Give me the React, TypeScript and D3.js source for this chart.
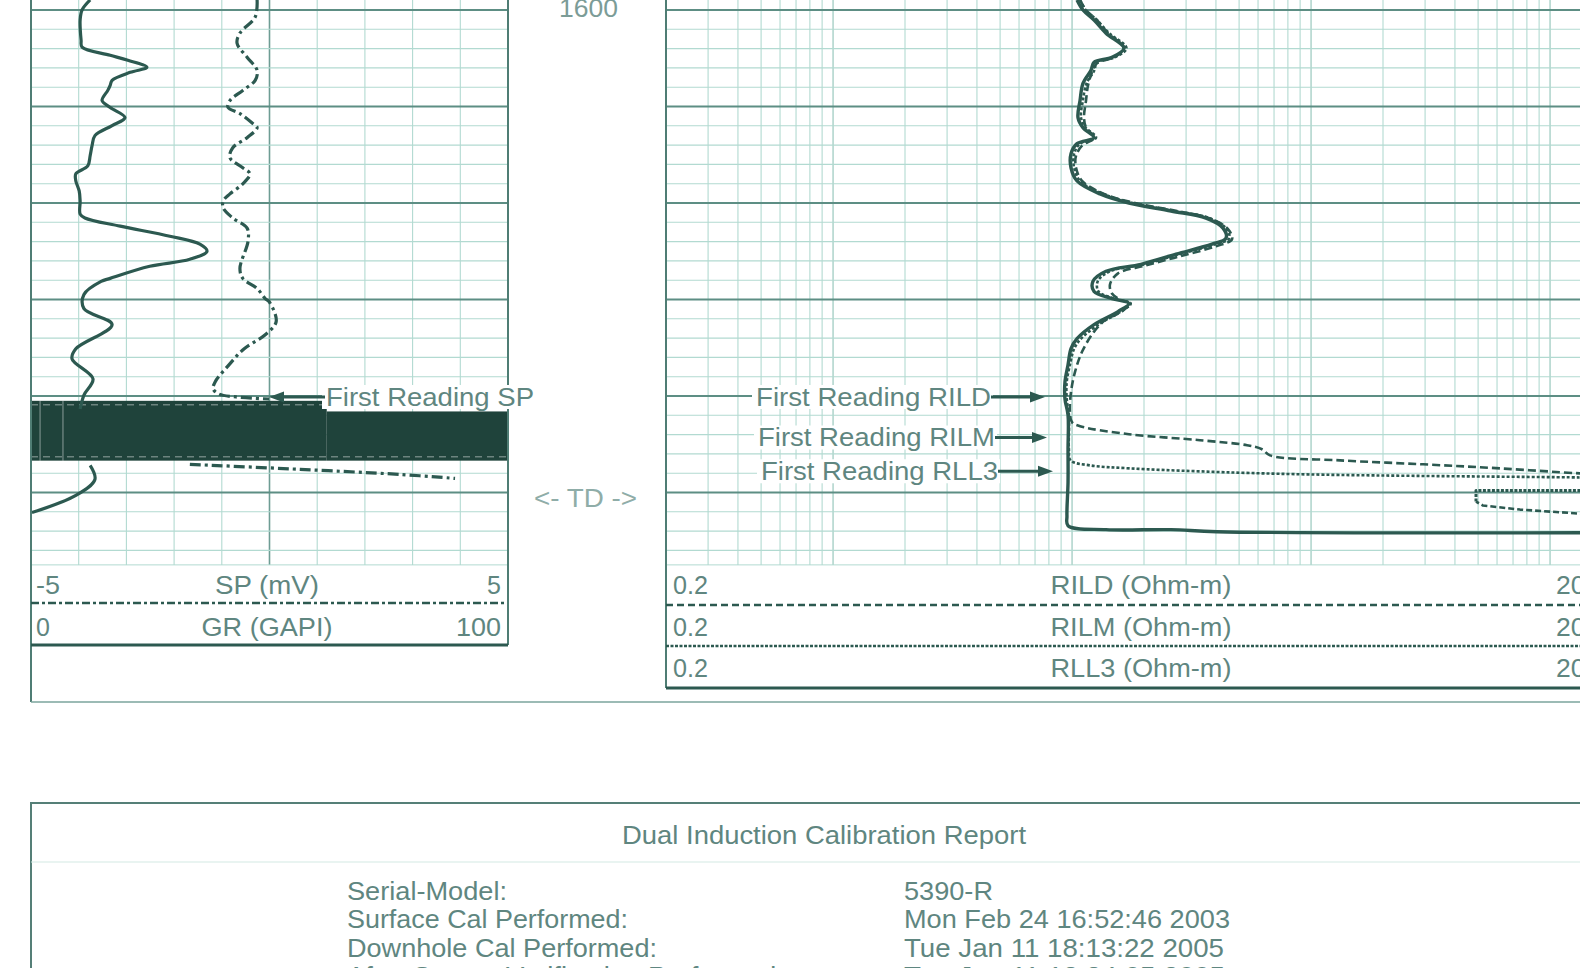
import React from 'react';
import * as d3 from 'd3';

type Pt = [number, number | null];

// ---- scales / axis ranges ----
const SP_RANGE: [number, number] = [-5, 5];
const GR_RANGE: [number, number] = [0, 100];
const RES_RANGE: [number, number] = [0.2, 2000];
const DEPTH_LABELS = [1600];
const TD_DEPTH = 1650.55;
const TRACK_BOTTOM_DEPTH = 1657.5;
const BAND_LEFT: [number, number] = [1640.5, 1646.7];
const BAND_RIGHT: [number, number] = [1641.6, 1646.7];

// ---- log curves [depth ft, value] ----
const GR: Pt[] = [
  [1598.96, 12.4], [1600.0, 10.7], [1601.04, 10.3], [1603.13, 10.5], [1603.85, 10.7],
  [1604.69, 16.6], [1605.21, 20.3], [1605.94, 24.3], [1606.46, 20.8], [1607.29, 17.0],
  [1607.81, 16.6], [1608.33, 16.1], [1609.38, 14.9], [1610.1, 16.6], [1611.15, 19.7],
  [1611.98, 17.0], [1613.02, 13.4], [1614.06, 12.8], [1615.1, 12.4], [1616.15, 11.9],
  [1616.98, 9.4], [1617.71, 9.4], [1618.75, 10.1], [1619.79, 10.3], [1621.15, 10.3],
  [1621.56, 11.3], [1622.4, 18.7], [1623.44, 29.1], [1624.27, 35.4], [1625.0, 36.9],
  [1625.83, 33.3], [1626.56, 24.9], [1627.81, 16.6], [1628.13, 14.7], [1629.48, 11.1],
  [1630.94, 11.1], [1632.6, 17.0], [1635.1, 9.4], [1636.15, 8.6], [1638.23, 13.0],
  [1639.9, 11.1], [1641.35, 10.3],
  [1644.0, null],
  [1647.19, 12.4], [1648.65, 13.4], [1650.31, 9.4], [1652.08, 0.2],
];

const SP: Pt[] = [
  [1598.96, -0.26], [1600.73, -0.3], [1602.4, -0.62], [1603.44, -0.68], [1604.9, -0.47],
  [1606.25, -0.26], [1607.29, -0.3], [1608.33, -0.56], [1609.38, -0.83], [1610.1, -0.87],
  [1610.73, -0.62], [1611.77, -0.35], [1612.19, -0.26], [1613.23, -0.47], [1614.27, -0.77],
  [1615.31, -0.83], [1616.35, -0.56], [1616.98, -0.41], [1618.02, -0.56], [1619.06, -0.83],
  [1619.79, -0.97], [1620.52, -0.97], [1621.56, -0.77], [1622.6, -0.47], [1623.96, -0.45],
  [1626.77, -0.62], [1627.81, -0.56], [1628.85, -0.26], [1629.9, -0.09], [1630.21, -0.01],
  [1632.29, 0.14], [1633.65, -0.09], [1635.1, -0.53], [1636.77, -0.85], [1638.54, -1.14],
  [1639.27, -1.18], [1639.79, -1.06], [1640.1, -0.7], [1640.31, -0.01],
  [1644.0, null],
  [1647.08, -1.67], [1647.6, 0.64], [1648.13, 2.74], [1648.54, 3.89],
];

const RLL3: Pt[] = [
  [1598.96, 10.49], [1600.0, 11.11], [1601.04, 12.36], [1602.4, 13.87], [1603.96, 16.49],
  [1604.9, 14.69], [1605.42, 12.36], [1606.25, 12.0], [1607.6, 11.11], [1609.38, 10.8],
  [1611.15, 10.59], [1612.19, 11.11], [1613.23, 12.36], [1613.85, 10.49], [1614.9, 9.9],
  [1616.35, 9.9], [1617.71, 10.49], [1619.06, 13.09], [1620.0, 17.3], [1620.83, 25.94],
  [1621.56, 36.34], [1622.6, 42.82], [1623.65, 44.06], [1624.27, 38.5], [1625.31, 27.22],
  [1626.35, 19.42], [1627.08, 13.87], [1628.13, 12.23], [1629.17, 12.36], [1629.9, 14.69],
  [1630.42, 17.3], [1631.25, 15.57], [1632.6, 12.36], [1634.06, 10.49], [1635.1, 9.9],
  [1636.77, 9.62], [1638.54, 9.34], [1640.31, 9.34], [1641.98, 9.62], [1645.52, 9.62],
  [1648.96, 9.62], [1652.4, 9.52], [1653.44, 9.62], [1653.85, 13.87], [1653.85, 25.94],
  [1654.06, 40.42], [1654.17, 2000],
];

const RILD: Pt[] = [
  [1598.96, 10.8], [1600.0, 11.44], [1601.04, 12.71], [1602.4, 14.14], [1603.96, 16.49],
  [1604.9, 14.98], [1605.52, 12.71], [1606.46, 12.12], [1607.81, 11.66], [1609.38, 11.44],
  [1611.15, 11.22], [1612.19, 11.44], [1613.23, 12.36], [1614.06, 11.01], [1615.1, 10.39],
  [1616.35, 10.39], [1617.71, 11.01], [1619.06, 13.6], [1620.0, 18.34], [1620.83, 27.48],
  [1621.67, 38.5], [1622.71, 44.92], [1623.75, 46.7], [1624.48, 40.03], [1625.52, 28.29],
  [1626.46, 20.39], [1627.29, 15.57], [1628.44, 14.41], [1629.38, 14.69], [1630.0, 15.87],
  [1630.42, 17.3], [1631.25, 16.18], [1632.08, 13.87], [1633.33, 12.36], [1635.42, 11.01],
  [1637.5, 10.29], [1639.58, 9.9], [1641.67, 9.8], [1642.71, 9.99], [1643.13, 10.8],
  [1643.96, 17.3], [1644.58, 34.3], [1645.1, 53.96], [1645.52, 62.33], [1646.15, 67.32],
  [1646.67, 132.2], [1647.08, 294.2], [1647.5, 617.4], [1648.02, 1334.6], [1648.23, 2000],
];

const RILM: Pt[] = [
  [1598.96, 10.8], [1600.0, 11.4], [1601.04, 12.7], [1602.4, 14.3], [1603.96, 16.9],
  [1604.9, 15.1], [1605.42, 12.7], [1606.25, 12.4], [1607.6, 11.5], [1609.38, 11.1],
  [1611.15, 10.9], [1612.19, 11.4], [1613.23, 12.6], [1613.85, 10.8], [1614.9, 10.2],
  [1616.35, 10.2], [1617.71, 10.8], [1619.06, 13.5], [1620.0, 17.9], [1620.83, 26.8],
  [1621.56, 37.5], [1622.6, 44.0], [1623.65, 45.5], [1624.27, 39.8], [1625.31, 28.1],
  [1626.35, 20.1], [1627.08, 14.4], [1628.13, 12.8], [1629.17, 12.9], [1629.9, 15.0],
  [1630.42, 17.6], [1631.25, 16.0], [1632.6, 12.9], [1634.06, 10.9], [1635.1, 10.2],
  [1636.77, 9.8], [1638.54, 9.5], [1640.31, 9.5], [1641.98, 9.7], [1645.52, 9.7],
  [1646.67, 9.85], [1647.19, 11.89], [1647.5, 17.47], [1647.81, 34.3], [1648.13, 99.0],
  [1648.44, 1335], [1648.5, 2000],
];

const RILD_WRAP: Pt[] = [
  [1652.29, 2000], [1652.19, 1335], [1651.77, 748.7], [1651.35, 524], [1650.94, 490],
];
const RILM_WRAP: Pt[] = [
  [1650.94, 490], [1649.79, 490], [1649.79, 2000],
];

// ---- text ----
const SP_LABEL = 'SP (mV)';
const GR_LABEL = 'GR (GAPI)';
const RES_LABELS = ['RILD (Ohm-m)', 'RILM (Ohm-m)', 'RLL3 (Ohm-m)'];
const REPORT_TITLE = 'Dual Induction Calibration Report';
const REPORT_KEYS = ['Serial-Model:', 'Surface Cal Performed:', 'Downhole Cal Performed:', 'After Survey Verification Performed:'];
const REPORT_VALUES = ['5390-R', 'Mon Feb 24 16:52:46 2003', 'Tue Jan 11 18:13:22 2005', 'Tue Jan 11 18:34:05 2005'];
const REPORT_KEY_W = [160, 281, 310, 437];
const REPORT_VAL_W = [89, 326, 320, 321];

const INK = '#2c5950';
const TXT = '#5f8680';
const MINOR = '#b2dad1';
const MAJOR = '#5d8e84';
const FONT = '"Liberation Sans", Arial, sans-serif';

export default function App() {
  const yD = d3.scaleLinear().domain([1600, 1650]).range([10, 492.5]);
  const xGR = d3.scaleLinear().domain(GR_RANGE).range([31, 508]);
  const xSP = d3.scaleLinear().domain(SP_RANGE).range([31, 508]);
  const xR = d3.scaleLog().domain(RES_RANGE).range([666, 1622]);
  const trackBottom = yD(TRACK_BOTTOM_DEPTH);

  const mk = (xs: (v: number) => number, curve: d3.CurveFactory = d3.curveCatmullRom.alpha(0.5)) =>
    d3.line<Pt>()
      .defined((d) => d[1] !== null)
      .x((d) => xs(d[1] as number))
      .y((d) => yD(d[0]))
      .curve(curve);

  const grPath = mk(xGR)(GR) || '';
  const spPath = mk(xSP)(SP) || '';
  const rllPath = mk((v) => xR(v))(RLL3) || '';
  const rildPath = mk((v) => xR(v))(RILD) || '';
  const rilmPath = mk((v) => xR(v))(RILM) || '';
  const rildWrap = mk((v) => xR(v), d3.curveLinear)(RILD_WRAP) || '';
  const rilmWrap = mk((v) => xR(v), d3.curveLinear)(RILM_WRAP) || '';

  // depth grid
  const depthLines: number[] = [];
  for (let d = 1598; d <= 1657; d += 2) {
    const y = yD(d);
    if (y >= 0 && y <= trackBottom) depthLines.push(d);
  }
  const linTicks = xGR.ticks(10).filter((t) => t > GR_RANGE[0] && t < GR_RANGE[1]);
  const logLines: number[] = [];
  for (let dec = 0.1; dec <= 1000; dec *= 10) {
    for (let m = 1; m <= 9; m++) {
      const v = +(m * dec).toPrecision(3);
      if (v > RES_RANGE[0] && v < RES_RANGE[1]) logLines.push(v);
    }
  }

  const T = (p: {
    x: number; y: number; s: string; w?: number; anchor?: 'start' | 'middle' | 'end'; size?: number; fill?: string; bg?: boolean;
  }) => {
    const size = p.size ?? 25;
    const anchor = p.anchor ?? 'start';
    let x0 = p.x;
    if (p.w && anchor === 'middle') x0 = p.x - p.w / 2;
    if (p.w && anchor === 'end') x0 = p.x - p.w;
    return (
      <g key={p.s + p.x + p.y}>
        {p.bg && p.w ? <rect x={x0 - 4} y={p.y - 12} width={p.w + 6} height={24} fill="#fff" /> : null}
        <text
          x={p.w ? x0 : p.x}
          y={p.y + size * 0.36}
          fontSize={size}
          fontFamily={FONT}
          fill={p.fill ?? TXT}
          textAnchor={p.w ? 'start' : anchor}
          textLength={p.w}
          lengthAdjust={p.w ? 'spacingAndGlyphs' : undefined}
        >
          {p.s}
        </text>
      </g>
    );
  };

  const arrow = (x1: number, tip: number, y: number) => {
    const dir = tip > x1 ? 1 : -1;
    const base = tip - dir * 15;
    return (
      <g key={'a' + x1 + y}>
        <line x1={x1} x2={base} y1={y} y2={y} stroke={INK} strokeWidth={3} />
        <path d={`M${tip},${y} L${base},${y - 5.5} L${base},${y + 5.5} Z`} fill={INK} />
      </g>
    );
  };

  return (
    <svg
      width={1580}
      height={968}
      style={{ position: 'absolute', left: 0, top: 0, display: 'block', background: '#fff' }}
    >
      <defs>
        <clipPath id="leftTrack">
          <rect x={31} y={0} width={477} height={trackBottom} />
        </clipPath>
        <clipPath id="rightTrack">
          <rect x={666} y={0} width={956} height={trackBottom} />
        </clipPath>
      </defs>
      <rect x={0} y={0} width={1580} height={968} fill="#fff" />

      {/* ---------- left track grid ---------- */}
      {linTicks.map((t) => (
        <line key={'lv' + t} x1={xGR(t)} x2={xGR(t)} y1={0} y2={trackBottom}
          stroke={t === 50 ? '#6e9d94' : MINOR} strokeWidth={t === 50 ? 1.6 : 1.1} />
      ))}
      {depthLines.map((d) => (
        <line key={'lh' + d} x1={31} x2={508} y1={yD(d)} y2={yD(d)}
          stroke={d % 10 === 0 ? MAJOR : MINOR} strokeWidth={d % 10 === 0 ? 1.8 : 1.1} />
      ))}

      {/* ---------- right track grid ---------- */}
      {logLines.map((v) => (
        <line key={'rv' + v} x1={xR(v)} x2={xR(v)} y1={0} y2={trackBottom}
          stroke={[1, 10, 100, 1000].includes(v) ? '#8fc3b8' : MINOR} strokeWidth={1.1} />
      ))}
      {depthLines.map((d) => (
        <line key={'rh' + d} x1={666} x2={1580} y1={yD(d)} y2={yD(d)}
          stroke={d % 10 === 0 ? MAJOR : MINOR} strokeWidth={d % 10 === 0 ? 1.8 : 1.1} />
      ))}
      <line x1={31} x2={508} y1={trackBottom} y2={trackBottom} stroke={MINOR} strokeWidth={1} />
      <line x1={666} x2={1580} y1={trackBottom} y2={trackBottom} stroke={MINOR} strokeWidth={1} />

      {/* ---------- noisy band (tool on bottom) ---------- */}
      <g clipPath="url(#leftTrack)">
        <rect x={31} y={yD(BAND_LEFT[0])} width={xGR(62) - 31} height={yD(BAND_LEFT[1]) - yD(BAND_LEFT[0])} fill="#1f433b" />
        <rect x={xGR(62)} y={yD(BAND_RIGHT[0])} width={508 - xGR(62)} height={yD(BAND_RIGHT[1]) - yD(BAND_RIGHT[0])} fill="#1f433b" />
        <line x1={31} x2={508} y1={yD(BAND_LEFT[0]) + 4} y2={yD(BAND_LEFT[0]) + 4} stroke="#fff" strokeOpacity={0.35} strokeWidth={1.5} strokeDasharray="7 5" />
        <line x1={31} x2={508} y1={yD(BAND_LEFT[1]) - 4} y2={yD(BAND_LEFT[1]) - 4} stroke="#fff" strokeOpacity={0.35} strokeWidth={1.5} strokeDasharray="7 5" />
        <line x1={xGR(1.9)} x2={xGR(1.9)} y1={yD(BAND_LEFT[0])} y2={yD(BAND_LEFT[1])} stroke="#fff" strokeOpacity={0.4} strokeWidth={1.2} />
        <line x1={xGR(6.7)} x2={xGR(6.7)} y1={yD(BAND_LEFT[0])} y2={yD(BAND_LEFT[1])} stroke="#fff" strokeOpacity={0.4} strokeWidth={1.2} />
      </g>

      {/* ---------- curves ---------- */}
      <g clipPath="url(#leftTrack)" fill="none" stroke={INK} strokeLinejoin="round">
        <path d={grPath} strokeWidth={3.2} />
        <path d={spPath} strokeWidth={3.2} strokeDasharray="11 4 3 4" />
      </g>
      <g clipPath="url(#rightTrack)" fill="none" stroke={INK} strokeLinejoin="round">
        <path d={rilmPath} strokeWidth={2.6} strokeDasharray="3 2" />
        <path d={rildPath} strokeWidth={2.6} strokeDasharray="8 4" />
        <path d={rllPath} strokeWidth={3.4} />
        <path d={rildWrap} strokeWidth={2.6} strokeDasharray="6 3" />
        <path d={rilmWrap} strokeWidth={3} strokeDasharray="3 1.5" />
      </g>

      {/* ---------- borders ---------- */}
      <line x1={31} x2={31} y1={0} y2={702} stroke="#4f7d74" strokeWidth={2} />
      <line x1={508} x2={508} y1={0} y2={645} stroke="#4f7d74" strokeWidth={2} />
      <line x1={666} x2={666} y1={0} y2={688} stroke="#4f7d74" strokeWidth={2} />

      {/* ---------- depth track ---------- */}
      {DEPTH_LABELS.map((d) => T({ x: 559, y: yD(d) - 2, s: String(d), w: 59, fill: '#7c9c97' }))}
      {T({ x: 534, y: yD(TD_DEPTH), s: '<- TD ->', w: 103, fill: '#8fada8' })}

      {/* ---------- first reading annotations ---------- */}
      {T({ x: 326, y: yD(1640) + 1, s: 'First Reading SP', w: 208, bg: true })}
      {arrow(325, xSP(-0.01), yD(1640) + 1)}
      {T({ x: 756, y: yD(1640) + 1, s: 'First Reading RILD', w: 235, bg: true })}
      {arrow(991, 1045, yD(1640) + 1)}
      {T({ x: 758, y: yD(1644.3), s: 'First Reading RILM', w: 237, bg: true })}
      {arrow(995, 1047, yD(1644.3))}
      {T({ x: 761, y: yD(1647.8), s: 'First Reading RLL3', w: 237, bg: true })}
      {arrow(998, 1053, yD(1647.8))}

      {/* ---------- left header ---------- */}
      {T({ x: 36, y: 585, s: String(SP_RANGE[0]), w: 24 })}
      {T({ x: 267, y: 585, s: SP_LABEL, w: 104, anchor: 'middle' })}
      {T({ x: 501, y: 585, s: String(SP_RANGE[1]), anchor: 'end' })}
      <line x1={31} x2={507} y1={603} y2={603} stroke={INK} strokeWidth={2.6} strokeDasharray="8 3 3 3" />
      {T({ x: 36, y: 627, s: String(GR_RANGE[0]) })}
      {T({ x: 267, y: 627, s: GR_LABEL, w: 131, anchor: 'middle' })}
      {T({ x: 501, y: 627, s: String(GR_RANGE[1]), w: 45, anchor: 'end' })}
      <line x1={31} x2={508} y1={645} y2={645} stroke={INK} strokeWidth={3} />

      {/* ---------- right header ---------- */}
      {RES_LABELS.map((lab, i) => {
        const y = 585 + i * 41.5;
        return (
          <g key={lab}>
            {T({ x: 673, y, s: String(RES_RANGE[0]), w: 35 })}
            {T({ x: 1141, y, s: lab, w: 181, anchor: 'middle' })}
            {T({ x: 1556, y, s: String(RES_RANGE[1]), w: 59 })}
          </g>
        );
      })}
      <line x1={666} x2={1580} y1={605} y2={605} stroke={INK} strokeWidth={2.6} strokeDasharray="7 4" />
      <line x1={666} x2={1580} y1={646} y2={646} stroke={INK} strokeWidth={2.6} strokeDasharray="3 1.5" />
      <line x1={666} x2={1580} y1={688} y2={688} stroke={INK} strokeWidth={3} />
      <line x1={31} x2={1580} y1={702} y2={702} stroke="#7ba59c" strokeWidth={1.5} />

      {/* ---------- calibration report ---------- */}
      <line x1={30} x2={1580} y1={803} y2={803} stroke="#557f77" strokeWidth={2} />
      <line x1={31} x2={31} y1={803} y2={968} stroke="#557f77" strokeWidth={2} />
      <line x1={31} x2={1580} y1={862} y2={862} stroke="#d3e9e4" strokeWidth={1.2} />
      {T({ x: 622, y: 835, s: REPORT_TITLE, w: 404 })}
      {REPORT_KEYS.map((k, i) => (
        <g key={k}>
          {T({ x: 347, y: 891 + i * 28.3, s: k, w: REPORT_KEY_W[i] })}
          {T({ x: 904, y: 891 + i * 28.3, s: REPORT_VALUES[i], w: REPORT_VAL_W[i] })}
        </g>
      ))}
    </svg>
  );
}
